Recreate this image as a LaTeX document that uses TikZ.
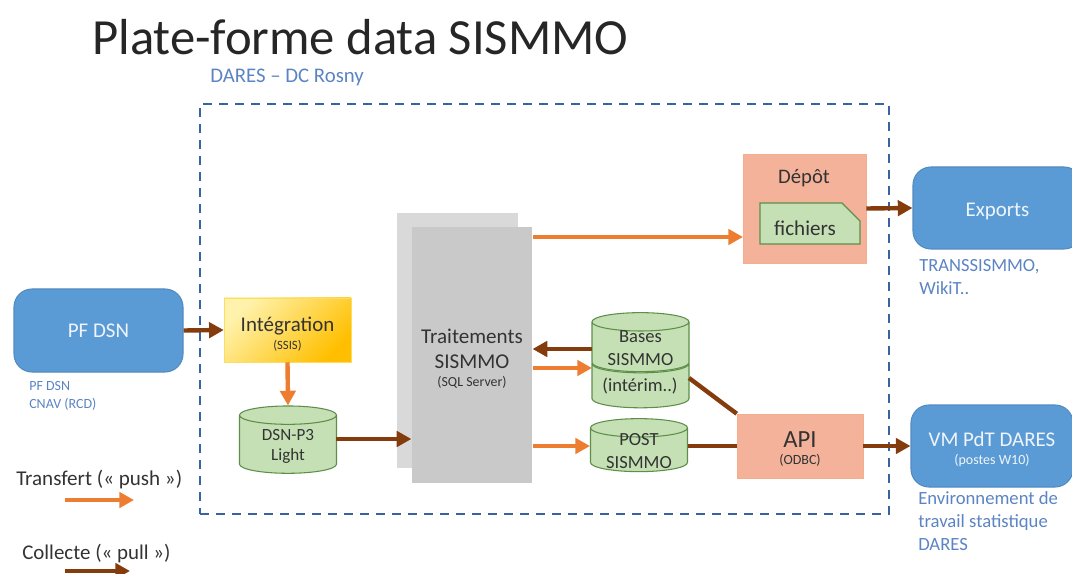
\documentclass[tikz,border=0pt]{standalone}
\usepackage{fontspec}
\setmainfont{Carlito}
\usetikzlibrary{arrows.meta,shapes.geometric,shapes.misc}
\definecolor{fleche1}{HTML}{ED7D31}
\definecolor{fleche2}{HTML}{843C0C}
\definecolor{bleu}{HTML}{5B9BD5}
\definecolor{bleutexte}{HTML}{5B84C4}
\definecolor{cadrebleu}{HTML}{3A62A0}
\definecolor{vert}{HTML}{C5E0B4}
\definecolor{vertbord}{HTML}{5E8F4A}
\definecolor{saumon}{HTML}{F4B29A}
\newcommand{\hautligne}[1]{\rule{0pt}{#1}}
\begin{document}
\begin{tikzpicture}[x=0.75pt, y=-0.75pt,
	every node/.style={inner sep=0pt, text=black!80},
	bloc/.style={rectangle, rounded corners=13.5pt, fill=bleu, draw=bleu!90!black, thick, text=white!90!bleu, font=\fontsize{15.7}{19}\selectfont},
	api/.style={rectangle, fill=saumon, draw=saumon!90!orange},
	gris/.style={rectangle, minimum width=90.5pt, minimum height=191.5pt},
	bdd/.style={cylinder, shape border rotate=90, aspect=0.8, fill=vert, draw=vertbord, thick, minimum width=72.75pt},
	texte/.style={rectangle, draw=none, align=center, font=\fontsize{13.9}{17.25}\selectfont},
	legende/.style={rectangle, draw=none, align=left, text=bleutexte},
	push/.style={draw=fleche1, line width=3.3pt, -{Triangle[length=11pt, width=11.5pt]}},
	pull/.style={draw=fleche2, line width=3.3pt, -{Triangle[length=11pt, width=11.5pt]}},
	lien/.style={draw=fleche2, line width=3.3pt}]
	\path[use as bounding box, clip] (0,0) rectangle (1072,574);

	\node[rectangle, anchor=base west, text=black!85, font=\fontsize{38}{44}\selectfont] (titre) at (92,55){Plate-forme data SISMMO};
	\node[legende, anchor=west, font=\fontsize{15.6}{18}\selectfont] (site) at (210,77){DARES – DC Rosny};
	\node[rectangle, draw=cadrebleu, line width=2.2pt, dash pattern=on 7pt off 5pt, minimum width=516.75pt, minimum height=307.5pt] (cadre) at (544.5,309){};

	\node[bloc, text depth=0pt, minimum width=126.75pt, minimum height=62.25pt] (pfdsn) at (98.5,330.5){PF DSN};
	\node[bloc, text depth=0pt, minimum width=126.75pt, minimum height=61.5pt] (exports) at (997.5,208){\hautligne{13.5pt}Exports};
	\node[bloc, minimum width=121.5pt, minimum height=61.5pt, align=center] (vm) at (992,446){\hautligne{16pt}VM PdT DARES\\[-5.75pt]{\fontsize{10.5}{12}\selectfont (postes W10)}};

	\node[legende, anchor=north west, font=\fontsize{10.5}{13.5}\selectfont] (source) at (29,381){PF DSN\\CNAV (RCD)};
	\node[legende, anchor=north west, font=\fontsize{13.9}{17.25}\selectfont] (cibles) at (919,259){TRANSSISMMO,\\WikiT..};
	\node[legende, anchor=north west, font=\fontsize{14}{17.25}\selectfont] (env) at (918,491){Environnement de\\travail statistique\\DARES};

	\node[rectangle, minimum width=95.25pt, minimum height=48pt, draw=yellow!60!orange!60, shading=axis, top color=yellow!25!white!90!orange, bottom color=orange!50!yellow, shading angle=45, align=center, font=\fontsize{15.7}{19}\selectfont] (integration) at (287.5,330){\hautligne{17pt}Intégration\\[-6pt]{\fontsize{9.5}{10}\selectfont (SSIS)}};
	\node[bdd, minimum height=50.5pt] (dsnp) at (288,444.5){\phantom{DSN}};
	\node[texte, font=\fontsize{12.8}{14.5}\selectfont] (dsntexte) at (288,446.5){DSN-P3\\Light};

	\node[gris, fill=black!15] (fond) at (457.5,340.5){};
	\node[gris, fill=black!21, align=center, font=\fontsize{15.8}{18.7}\selectfont] (traitements) at (472,355){\hautligne{17pt}Traitements\\SISMMO\\[-5.2pt]{\fontsize{10.4}{12}\selectfont (SQL Server)}};

	\node[api, minimum width=92.25pt, minimum height=81.75pt] (depot) at (804.5,208.5){};
	\node[texte, font=\fontsize{15.5}{18}\selectfont] (depottexte) at (804,178){Dépôt};
	\node[chamfered rectangle, chamfered rectangle corners=north east, chamfered rectangle xsep=10pt, chamfered rectangle ysep=10pt, fill=vert, draw=vertbord, thick, minimum width=75pt, minimum height=30.75pt] (fichiers) at (810,223.5){\phantom{fichiers}};
	\node[texte, font=\fontsize{15.8}{18}\selectfont] (fichierstexte) at (805,228){fichiers};

	\node[bdd, minimum height=40pt] (interim) at (640.5,386){\phantom{DSN}};
	\node[bdd, minimum height=44.25pt] (bases) at (640.5,347){\phantom{DSN}};
	\node[bdd, minimum height=39.75pt] (post) at (639,450){\phantom{DSN}};
	\node[texte] (interimtexte) at (640,386){(intérim..)};
	\node[texte] (basestexte) at (640.5,348){Bases\\SISMMO};
	\node[texte] (posttexte) at (639,451){POST\\SISMMO};

	\node[api, minimum width=94.5pt, minimum height=48pt, align=center, font=\fontsize{18.5}{20}\selectfont] (api) at (800,446){\hautligne{16.5pt}API\\[-7.5pt]{\fontsize{10.5}{12}\selectfont (ODBC)}};

	\node[rectangle, draw=none, anchor=west, font=\fontsize{15.8}{18}\selectfont] (transfert) at (16,479){Transfert (« push »)};
	\node[rectangle, draw=none, anchor=west, font=\fontsize{15.7}{18}\selectfont] (collecte) at (22,554){Collecte (« pull »)};

	\coordinate (dsnout) at (336,439);
	\coordinate (depotin) at (743,237);
	\coordinate (basesout) at (592,349);
	\coordinate (basesin) at (592,368);
	\coordinate (interimout) at (689,378);
	\coordinate (postin) at (590,446);
	\coordinate (postout) at (688,446);
	\coordinate (leg1a) at (65,500);
	\coordinate (leg1b) at (134,500);
	\coordinate (leg2a) at (65,571);
	\coordinate (leg2b) at (130,571);

	\path (pfdsn.east) edge[pull] (integration.west);
	\path (integration.south) edge[push] (dsnp.top);
	\path (dsnout) edge[pull] (dsnout -| traitements.west);
	\path (depotin -| traitements.east) edge[push] (depotin);
	\path (depot.east) edge[pull] (exports.west);
	\path (basesout) edge[pull] (basesout -| traitements.east);
	\path (basesin -| traitements.east) edge[push] (basesin);
	\path (postin -| traitements.east) edge[push] (postin);
	\path (postout) edge[lien] (postout -| api.west);
	\path (interimout) edge[lien] (api.north west);
	\path (api.east) edge[pull] (vm.west);
	\path (leg1a) edge[push] (leg1b);
	\path (leg2a) edge[pull] (leg2b);
\end{tikzpicture}
\end{document}
